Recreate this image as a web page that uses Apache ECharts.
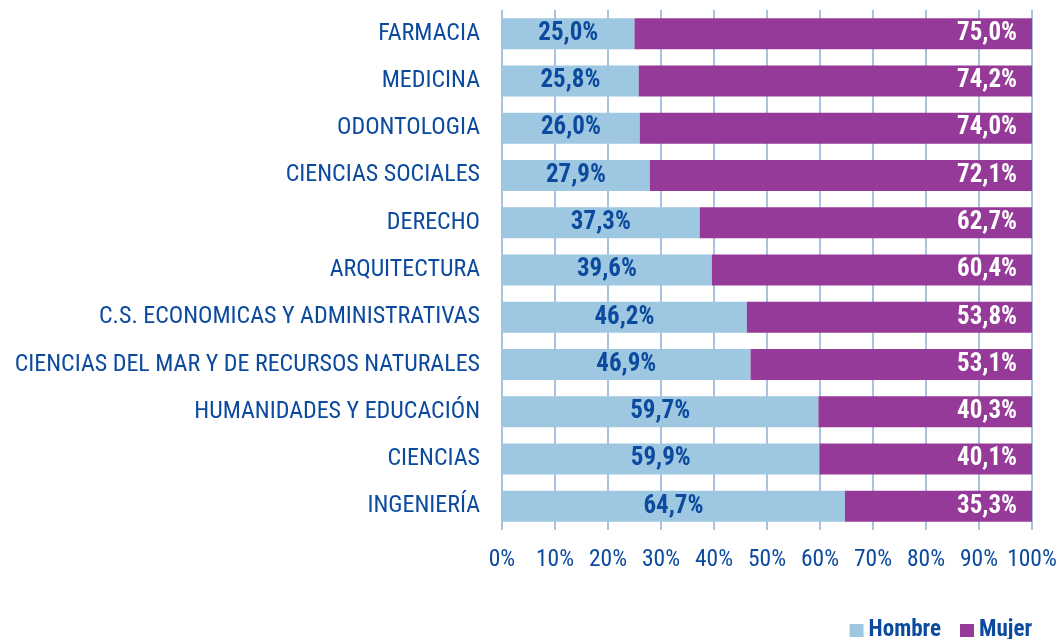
<!DOCTYPE html>
<html>
<head>
<meta charset="utf-8">
<script src="https://cdn.jsdelivr.net/npm/echarts@6/dist/echarts.min.js"></script>
<style>
  html,body{margin:0;padding:0;background:#fff;}
  #chart{width:1059px;height:639px;}
</style>
</head>
<body>
<div id="chart"></div>
<script>
// carreras, de arriba a abajo
const categories = ['FARMACIA','MEDICINA','ODONTOLOGIA','CIENCIAS SOCIALES','DERECHO','ARQUITECTURA',
  'C.S. ECONOMICAS Y ADMINISTRATIVAS','CIENCIAS DEL MAR Y DE RECURSOS NATURALES',
  'HUMANIDADES Y EDUCACIÓN','CIENCIAS','INGENIERÍA']
const hombre = [25.0,25.8,26.0,27.9,37.3,39.6,46.2,46.9,59.7,59.9,64.7]
const mujer  = [75.0,74.2,74.0,72.1,62.7,60.4,53.8,53.1,40.3,40.1,35.3]
const xTicks = [0,10,20,30,40,50,60,70,80,90,100]

const font = '"Roboto Condensed","Liberation Sans Narrow",sans-serif'
const blue = '#0b4a9e'
const fmt = p => p.value.toFixed(1).replace('.',',') + '%'

const chart = echarts.init(document.getElementById('chart'))
chart.setOption({
  animation:false,
  grid:{left:502,right:27,top:10,bottom:109,outerBoundsMode:'none',containLabel:false},
  legend:{
    right:22,bottom:-8,
    itemWidth:14,itemHeight:13,itemGap:19,
    icon:'rect',
    textStyle:{fontFamily:font,fontSize:23,fontWeight:'bold',color:blue},
    data:['Hombre','Mujer']
  },
  xAxis:{
    type:'value',min:0,max:100,interval:10,
    axisLine:{show:false},
    axisTick:{show:false},
    splitLine:{show:true,lineStyle:{color:'#8fadd6',width:1.5}},
    axisLabel:{
      margin:18,fontFamily:font,fontSize:23.5,color:blue,hideOverlap:false,
      showMinLabel:true,showMaxLabel:true,
      formatter:v => xTicks.includes(v) ? v + '%' : ''
    }
  },
  yAxis:{
    type:'category',inverse:true,data:categories,
    axisLine:{show:false},axisTick:{show:false},
    axisLabel:{margin:22,fontFamily:font,fontSize:24,color:blue}
  },
  series:[
    {
      name:'Hombre',type:'bar',stack:'t',data:hombre,barWidth:31,
      itemStyle:{color:'#9ec7e1'},
      label:{show:true,position:'inside',formatter:fmt,
        fontFamily:font,fontSize:25,fontWeight:'bold',color:blue}
    },
    {
      name:'Mujer',type:'bar',stack:'t',data:mujer,barWidth:31,
      itemStyle:{color:'#963a99'},
      label:{show:true,position:'insideRight',distance:15,formatter:fmt,
        fontFamily:font,fontSize:25,fontWeight:'bold',color:'#fff'}
    }
  ]
})
</script>
</body>
</html>
